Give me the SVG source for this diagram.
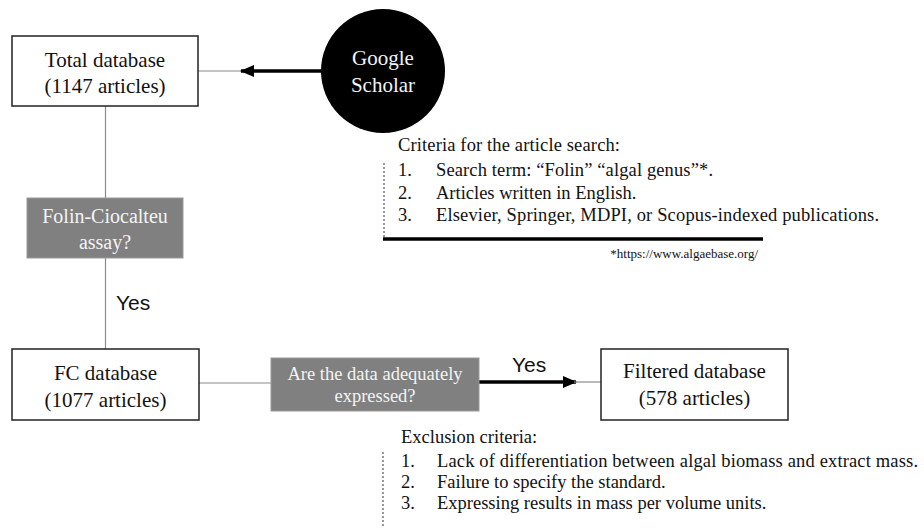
<svg xmlns="http://www.w3.org/2000/svg" width="924" height="528" viewBox="0 0 924 528">
<style>
.box{fill:#fff;stroke:#222;stroke-width:1.5}
.gbox{fill:#808080;stroke:#9a9a9a;stroke-width:1}
.t{font-family:"Liberation Serif","Times New Roman",serif;fill:#111}
.tw{font-family:"Liberation Serif","Times New Roman",serif;fill:#f4f4f4}
.yes{font-family:"Liberation Sans",Arial,sans-serif;font-size:21px;fill:#111}
.thin{stroke:#8a8a8a;stroke-width:1.2;fill:none}
.thick{stroke:#000;stroke-width:3.5;fill:none}
.dot{stroke:#333;stroke-width:1;stroke-dasharray:2,2;fill:none}
</style>
<defs>
<marker id="ah" markerWidth="14" markerHeight="12" refX="13" refY="6" orient="auto" markerUnits="userSpaceOnUse">
<path d="M0,0 L14,6 L0,12 Z" fill="#000"/>
</marker>
</defs>
<rect width="924" height="528" fill="#fff"/>
<g id="connectors">
<line class="thin" x1="198" y1="71" x2="242" y2="71"/>
<line class="thick" x1="321" y1="71" x2="241" y2="71" marker-end="url(#ah)"/>
<line class="thin" x1="105.5" y1="106" x2="105.5" y2="198"/>
<line class="thin" x1="105.5" y1="258" x2="105.5" y2="349"/>
<line class="thin" x1="199" y1="383" x2="271" y2="383"/>
<line class="thick" x1="479" y1="382" x2="576" y2="382" marker-end="url(#ah)"/>
<line class="thin" x1="574" y1="382" x2="601" y2="382"/>
<text class="yes" x="116" y="310">Yes</text>
<text class="yes" x="512" y="372">Yes</text>
</g>
<g id="google-scholar">
<circle cx="383" cy="71" r="62" fill="#000"/>
<text class="tw" font-size="21" text-anchor="middle" x="383" y="65">Google</text>
<text class="tw" font-size="21" text-anchor="middle" x="383" y="92">Scholar</text>
</g>
<g id="total-database">
<rect class="box" x="12" y="36" width="186" height="70"/>
<text class="t" font-size="21" text-anchor="middle" x="105" y="67">Total database</text>
<text class="t" font-size="21" text-anchor="middle" x="105" y="93">(1147 articles)</text>
</g>
<g id="folin-question">
<rect class="gbox" x="27" y="198" width="156" height="60"/>
<text class="tw" font-size="20" text-anchor="middle" x="105" y="223">Folin-Ciocalteu</text>
<text class="tw" font-size="20" text-anchor="middle" x="105" y="249">assay?</text>
</g>
<g id="fc-database">
<rect class="box" x="12" y="349" width="187" height="71"/>
<text class="t" font-size="21" text-anchor="middle" x="105.5" y="380">FC database</text>
<text class="t" font-size="21" text-anchor="middle" x="105.5" y="407">(1077 articles)</text>
</g>
<g id="data-question">
<rect class="gbox" x="271" y="358" width="208" height="53"/>
<text class="tw" font-size="18.5" text-anchor="middle" x="375" y="380">Are the data adequately</text>
<text class="tw" font-size="18.5" text-anchor="middle" x="375" y="402">expressed?</text>
</g>
<g id="filtered-database">
<rect class="box" x="601" y="349" width="187" height="71"/>
<text class="t" font-size="21" text-anchor="middle" x="694.5" y="378">Filtered database</text>
<text class="t" font-size="21" text-anchor="middle" x="694.5" y="405">(578 articles)</text>
</g>
<g id="search-criteria">
<text class="t" font-size="18.5" x="398" y="151" textLength="222" lengthAdjust="spacing">Criteria for the article search:</text>
<text class="t" font-size="18.5" x="398" y="176">1.</text>
<text class="t" font-size="18.5" x="436" y="176" textLength="277" lengthAdjust="spacing">Search term: “Folin” “algal genus”*.</text>
<text class="t" font-size="18.5" x="398" y="199">2.</text>
<text class="t" font-size="18.5" x="436" y="199">Articles written in English.</text>
<text class="t" font-size="18.5" x="398" y="221">3.</text>
<text class="t" font-size="18.5" x="436" y="221" textLength="443" lengthAdjust="spacing">Elsevier, Springer, MDPI, or Scopus-indexed publications.</text>
<line class="dot" x1="384" y1="163" x2="384" y2="238"/>
<line x1="383" y1="239" x2="763" y2="239" stroke="#000" stroke-width="3.5"/>
<text class="t" font-size="13" text-anchor="end" x="758" y="258">*https://www.algaebase.org/</text>
</g>
<g id="exclusion-criteria">
<text class="t" font-size="18.5" x="401" y="443">Exclusion criteria:</text>
<text class="t" font-size="18.5" x="401" y="467">1.</text>
<text class="t" font-size="18.5" x="437" y="467" textLength="481" lengthAdjust="spacing">Lack of differentiation between algal biomass and extract mass.</text>
<text class="t" font-size="18.5" x="401" y="488">2.</text>
<text class="t" font-size="18.5" x="437" y="488">Failure to specify the standard.</text>
<text class="t" font-size="18.5" x="401" y="509">3.</text>
<text class="t" font-size="18.5" x="437" y="509">Expressing results in mass per volume units.</text>
<line class="dot" x1="383" y1="452" x2="383" y2="528"/>
</g>
</svg>
